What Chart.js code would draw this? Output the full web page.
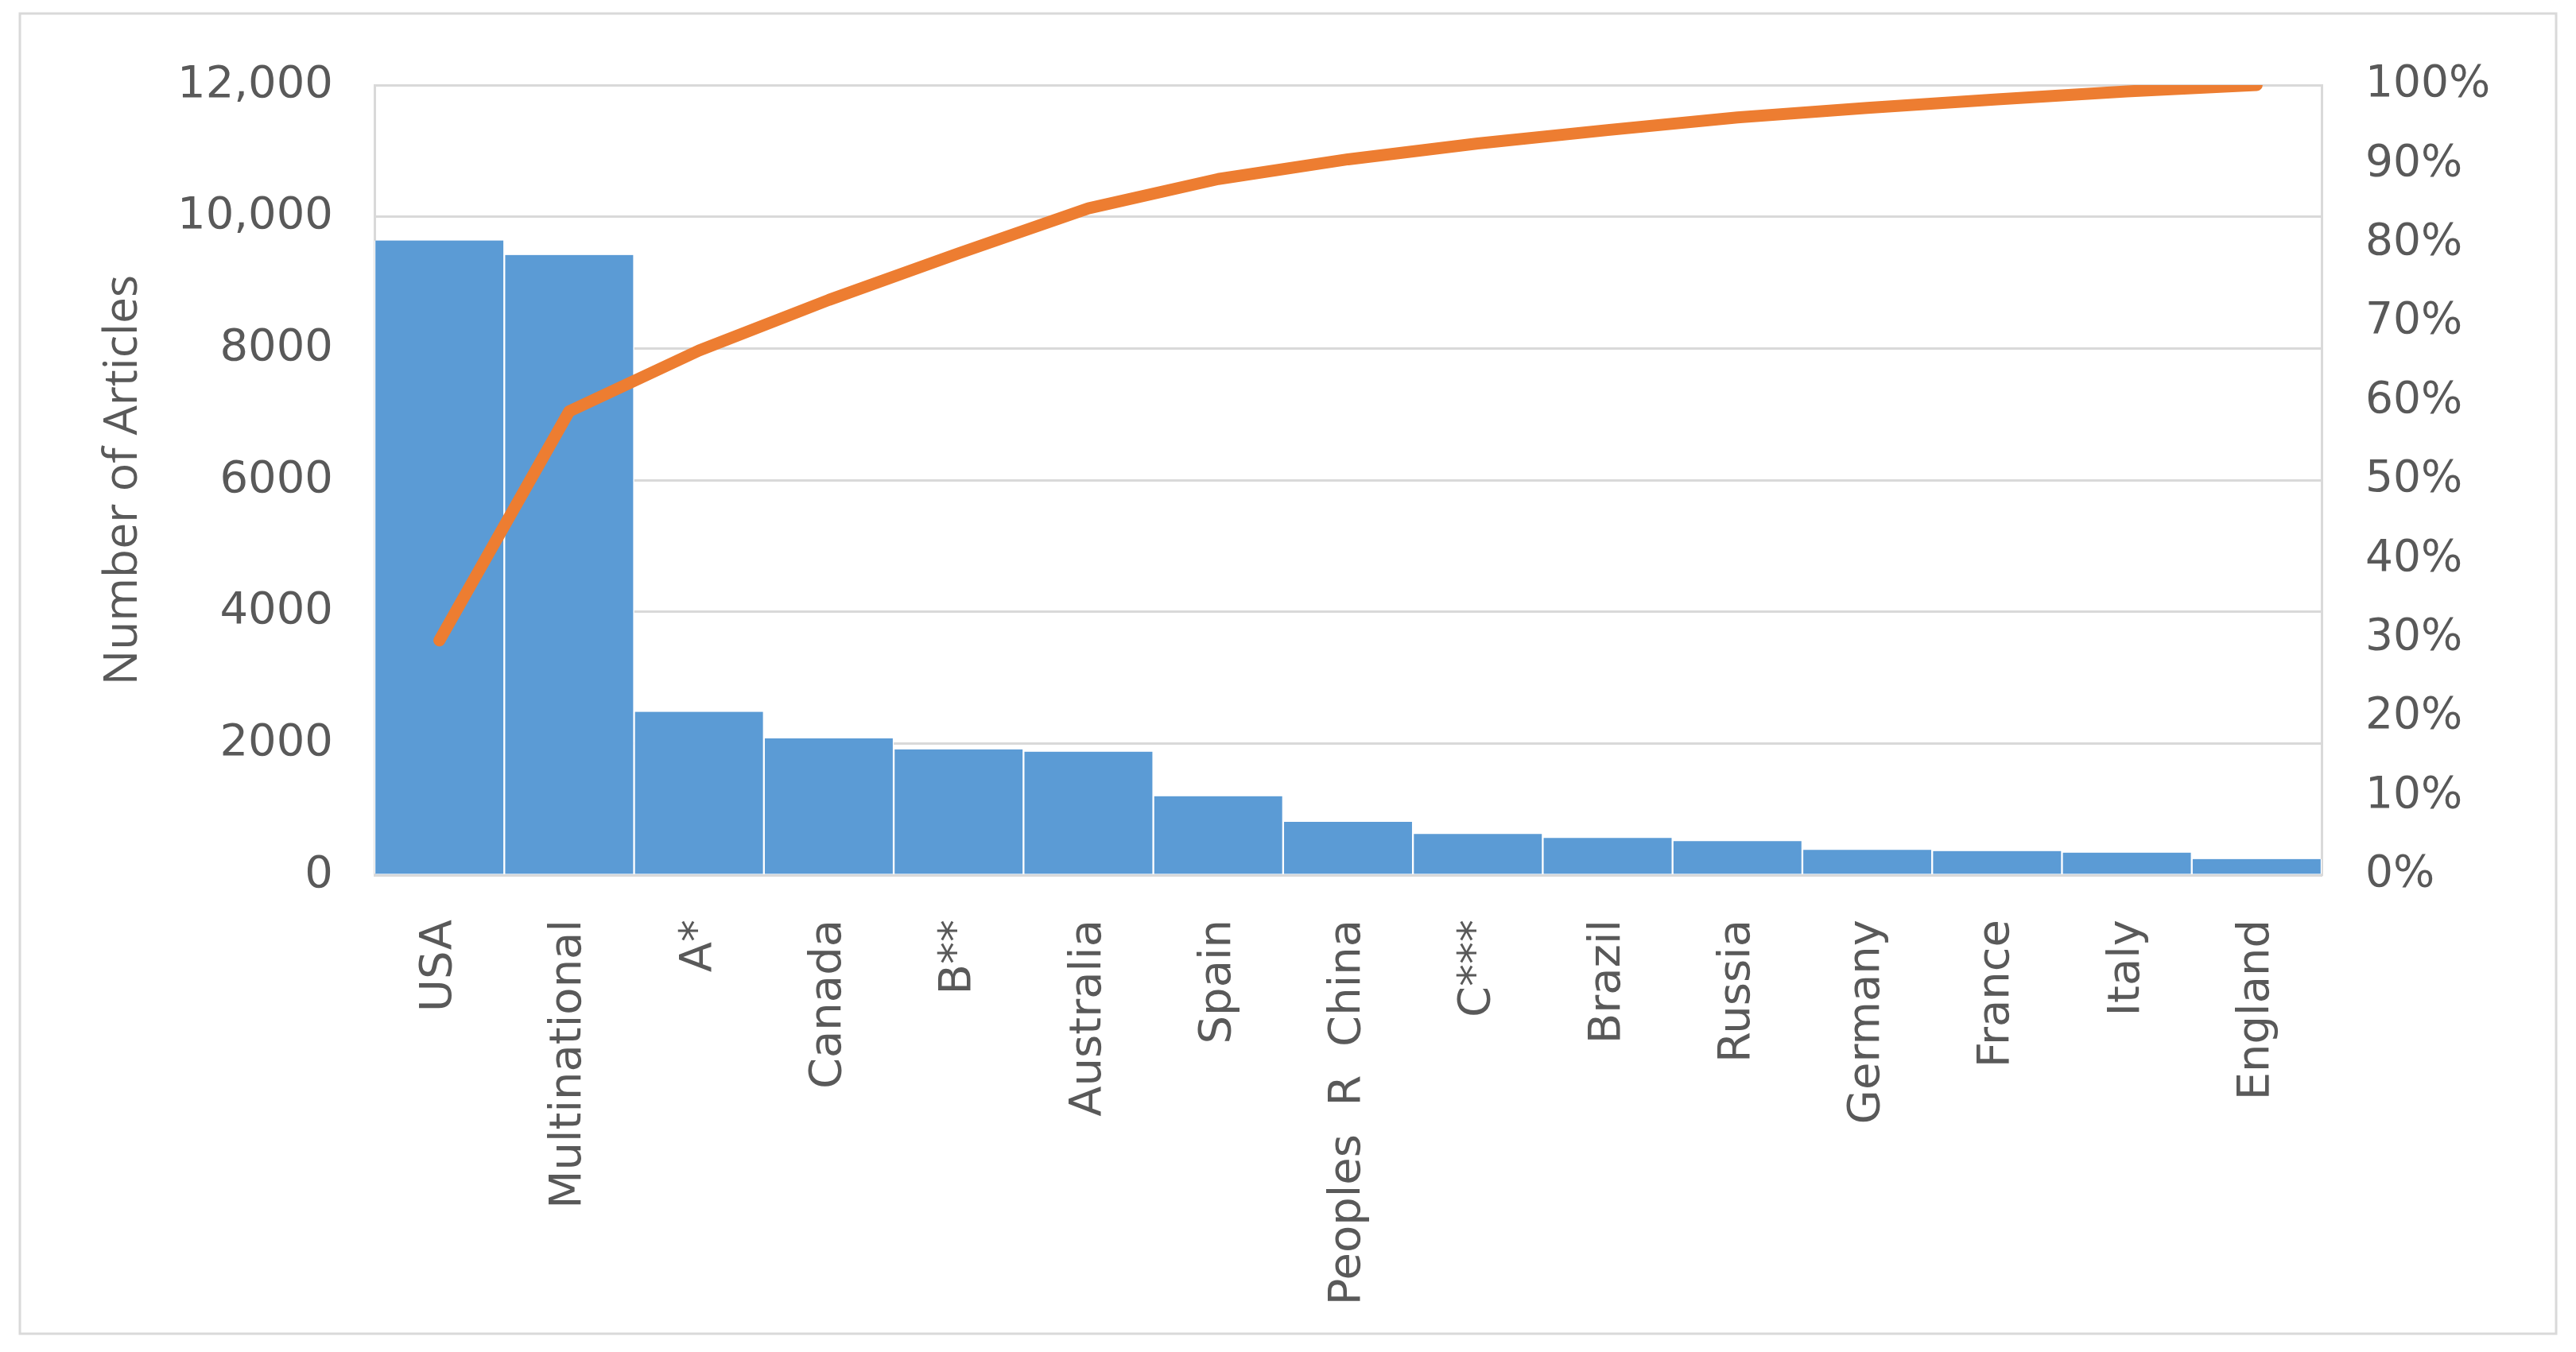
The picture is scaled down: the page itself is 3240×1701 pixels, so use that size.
<!DOCTYPE html>
<html>
<head>
<meta charset="utf-8">
<script src="https://cdn.jsdelivr.net/npm/chart.js@4"></script>
<style>
  html, body { margin: 0; padding: 0; background: #fff; }
  #chart { display: block; }
</style>
</head>
<body>
<canvas id="chart" width="3240" height="1701" style="width:3240px;height:1701px"></canvas>
<script>
// values
const countries = ['USA', 'Multinational', 'A*', 'Canada', 'B**', 'Australia', 'Spain',
  'Peoples  R  China', 'C***', 'Brazil', 'Russia', 'Germany', 'France', 'Italy', 'England'];
const articles = [9640, 9420, 2480, 2075, 1909, 1875, 1199, 809, 624, 564, 515, 383, 366, 342, 245];
const cumulativePct = [29.7, 58.7, 66.4, 72.8, 78.7, 84.4, 88.1, 90.6, 92.6, 94.3, 95.9, 97.1, 98.2, 99.2, 100];
const leftTickLabels = ['0', '2000', '4000', '6000', '8000', '10,000', '12,000'];
const rightTickLabels = ['0%', '10%', '20%', '30%', '40%', '50%', '60%', '70%', '80%', '90%', '100%'];

const gridGrey = '#D9D9D9';
const textGrey = '#595959';

// thin grey frame round the whole chart
const frame = {
  id: 'frame',
  beforeDraw(chart) {
    const ctx = chart.ctx;
    ctx.save();
    ctx.fillStyle = '#fff';
    ctx.fillRect(0, 0, chart.width, chart.height);
    ctx.strokeStyle = gridGrey;
    ctx.lineWidth = 3;
    ctx.strokeRect(25, 17, 3190, 1661);
    ctx.restore();
  }
};

const myChart = new Chart(document.getElementById('chart'), {
  type: 'bar',
  data: {
    labels: countries,
    datasets: [{
      type: 'line',
      label: 'Cumulative %',
      data: cumulativePct,
      yAxisID: 'y2',
      borderColor: '#ED7D31',
      borderWidth: 15,
      pointRadius: 0,
      borderCapStyle: 'round',
      borderJoinStyle: 'round',
      tension: 0,
      order: 0
    }, {
      type: 'bar',
      label: 'Number of Articles',
      data: articles,
      yAxisID: 'y',
      backgroundColor: '#5B9BD5',
      borderColor: '#ffffff',
      borderWidth: { left: 1.5, right: 1.5, top: 0, bottom: 0 },
      borderSkipped: false,
      barPercentage: 1,
      categoryPercentage: 1,
      order: 1
    }]
  },
  options: {
    responsive: false,
    devicePixelRatio: 1,
    animation: false,
    layout: { padding: { left: 96, right: 0, top: 107, bottom: 20 } },
    plugins: {
      legend: { display: false },
      tooltip: { enabled: false }
    },
    scales: {
      x: {
        grid: { display: false },
        border: { display: true, color: gridGrey, width: 3 },
        ticks: {
          color: textGrey,
          font: { family: 'DejaVu Sans', size: 56 },
          minRotation: 90,
          maxRotation: 90,
          autoSkip: false,
          padding: 48
        },
        afterFit(axis) { axis.height = 580; }
      },
      y: {
        position: 'left',
        min: 0,
        max: 12000,
        grid: { color: gridGrey, lineWidth: 3, drawTicks: false },
        border: { display: true, color: gridGrey, width: 3 },
        ticks: {
          stepSize: 2000,
          color: textGrey,
          font: { family: 'DejaVu Sans', size: 56 },
          padding: 52,
          callback: (v, i) => leftTickLabels[i]
        },
        title: {
          display: true,
          text: 'Number of Articles',
          color: textGrey,
          font: { family: 'Open Sans', size: 59 },
          padding: { top: 24, bottom: 0 }
        },
        afterFit(axis) { axis.width = 375; }
      },
      y2: {
        position: 'right',
        min: 0,
        max: 100,
        grid: { display: false, drawTicks: false },
        border: { display: true, color: gridGrey, width: 3 },
        ticks: {
          stepSize: 10,
          color: textGrey,
          font: { family: 'DejaVu Sans', size: 55 },
          padding: 55,
          callback: (v, i) => rightTickLabels[i]
        },
        afterFit(axis) { axis.width = 320; }
      }
    }
  },
  plugins: [frame]
});
</script>
</body>
</html>
